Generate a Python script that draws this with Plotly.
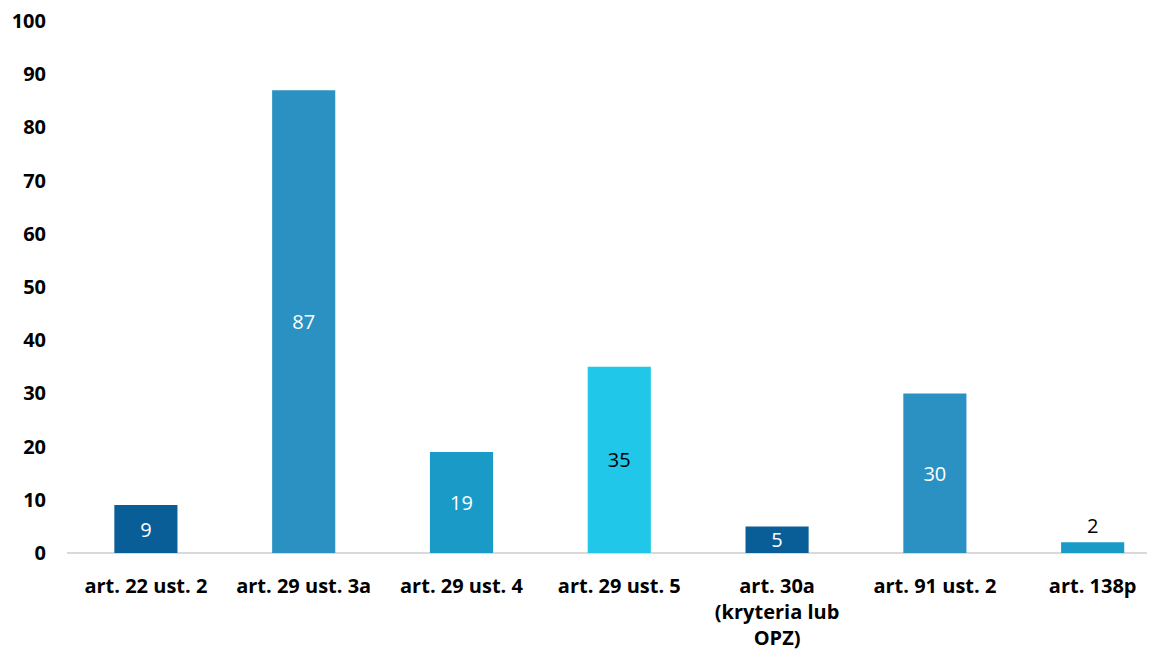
import plotly.graph_objects as go

categories = ["art. 22 ust. 2", "art. 29 ust. 3a", "art. 29 ust. 4", "art. 29 ust. 5",
              "art. 30a<br>(kryteria lub<br>OPZ)", "art. 91 ust. 2", "art. 138p"]
values = [9, 87, 19, 35, 5, 30, 2]
colors = ["#0A5E97", "#2B91C2", "#1A9AC6", "#20C7E8", "#0A5E97", "#2B91C2", "#1A9AC6"]
text_colors = ["white", "white", "white", "black", "white", "white", "black"]
text_pos = ["inside"] * 6 + ["outside"]
y_ticks = list(range(0, 101, 10))

FONT = "Open Sans, sans-serif"

fig = go.Figure(go.Bar(
    x=list(range(len(categories))), y=values,
    marker=dict(color=colors, line=dict(width=0)),
    width=0.4,
    text=[str(v) for v in values],
    textposition=text_pos,
    insidetextanchor="middle",
    textangle=0,
    constraintext="none",
    textfont=dict(family=FONT, size=20, color=text_colors),
    outsidetextfont=dict(family=FONT, size=20, color="black"),
    cliponaxis=False,
))

# page body has an 8px margin, so the figure is offset by 8px
fig.update_layout(
    width=1147, height=645,
    margin=dict(l=59, r=0, t=13, b=100),
    plot_bgcolor="white", paper_bgcolor="white",
    showlegend=False,
)
fig.update_xaxes(
    tickvals=list(range(len(categories))), ticktext=categories,
    range=[-0.5, 6.395],
    showgrid=False, zeroline=False, showline=False, automargin=False,
    ticks="", ticklabelstandoff=19, ticklabeloverflow="allow",
    tickfont=dict(family=FONT, size=20, color="black", weight="bold"),
)
fig.update_yaxes(
    range=[0, 100], tickvals=y_ticks, automargin=False,
    showgrid=False, zeroline=True, zerolinecolor="#D9D9D9", zerolinewidth=2,
    showline=False, ticks="", ticklabelstandoff=20, ticklabeloverflow="allow",
    tickfont=dict(family=FONT, size=20, color="black", weight="bold"),
)

fig.write_html("out.html")
